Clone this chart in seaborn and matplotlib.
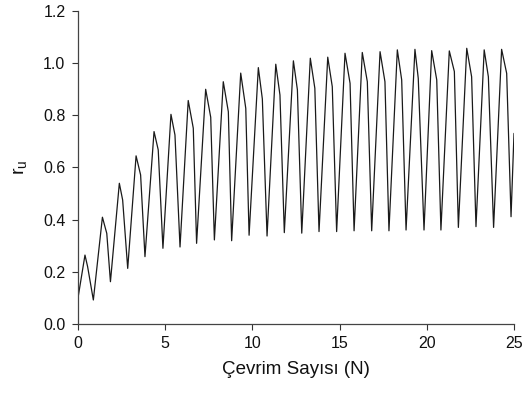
import matplotlib
matplotlib.use("Agg")
import matplotlib.pyplot as plt
import seaborn as sns
import pandas as pd

# ---- data ----
start_x, start_y = 0.0, 0.10
end_x, end_y = 25.0, 0.73

peak_x = [0.40, 1.40, 2.37, 3.33, 4.36, 5.33, 6.32, 7.32, 8.33, 9.33, 10.34, 11.34, 12.35,
          13.32, 14.32, 15.31, 16.30, 17.32, 18.31, 19.32, 20.28, 21.29, 22.29, 23.29, 24.29]
peak_y = [0.264, 0.409, 0.539, 0.644, 0.737, 0.803, 0.856, 0.899, 0.928, 0.961, 0.982, 0.995,
          1.008, 1.018, 1.022, 1.037, 1.040, 1.043, 1.050, 1.052, 1.047, 1.046, 1.056, 1.050, 1.052]
shoulder_x = [0.55, 1.65, 2.56, 3.59, 4.60, 5.56, 6.61, 7.61, 8.62, 9.62, 10.57, 11.58, 12.58,
              13.58, 14.58, 15.60, 16.59, 17.60, 18.56, 19.51, 20.57, 21.58, 22.57, 23.53, 24.58]
shoulder_y = [0.220, 0.347, 0.475, 0.571, 0.667, 0.724, 0.750, 0.792, 0.813, 0.826, 0.862, 0.877,
              0.897, 0.903, 0.909, 0.922, 0.928, 0.928, 0.935, 0.941, 0.935, 0.967, 0.947, 0.947, 0.960]
trough_x = [0.88, 1.86, 2.85, 3.84, 4.87, 5.85, 6.80, 7.82, 8.81, 9.81, 10.84, 11.83, 12.83,
            13.82, 14.83, 15.83, 16.84, 17.83, 18.81, 19.84, 20.81, 21.81, 22.82, 23.83, 24.83]
trough_y = [0.092, 0.162, 0.213, 0.258, 0.290, 0.295, 0.309, 0.322, 0.319, 0.340, 0.337, 0.350,
            0.348, 0.354, 0.354, 0.357, 0.357, 0.357, 0.360, 0.360, 0.360, 0.370, 0.373, 0.370, 0.411]

x_ticks = [0, 5, 10, 15, 20, 25]
y_ticks = [0.0, 0.2, 0.4, 0.6, 0.8, 1.0, 1.2]
x_label = "Çevrim Sayısı (N)"
y_label = r"$\mathregular{r_u}$"

# ---- assemble curve ----
xs = [start_x] + peak_x + shoulder_x + trough_x + [end_x]
ys = [start_y] + peak_y + shoulder_y + trough_y + [end_y]
df = pd.DataFrame({"N": xs, "ru": ys}).sort_values("N").reset_index(drop=True)

sns.set_style("ticks")
plt.rcParams["font.family"] = ["Liberation Sans", "DejaVu Sans"]
plt.rcParams["mathtext.default"] = "regular"

fig = plt.figure(figsize=(5.26, 3.98), dpi=100)
ax = fig.add_axes([78 / 526, 1 - 324 / 398, (514 - 78) / 526, (324 - 10.7) / 398])

sns.lineplot(data=df, x="N", y="ru", sort=False, estimator=None, ax=ax,
             color="#1a1a1a", linewidth=0.9)

ax.set_xlim(0, 25)
ax.set_ylim(0, 1.2)
ax.set_xticks(x_ticks)
ax.set_xticklabels([str(t) for t in x_ticks])
ax.set_yticks(y_ticks)
ax.set_yticklabels([f"{t:.1f}" for t in y_ticks])
ax.tick_params(axis="both", direction="out", length=4, width=0.8, colors="#333333",
               labelsize=11.5, labelcolor="#111111", pad=5)
ax.set_xlabel(x_label, fontsize=13.5, labelpad=7, color="#111111")
ax.set_ylabel(y_label, fontsize=14, labelpad=10, color="#111111")
for side in ["top", "right"]:
    ax.spines[side].set_visible(False)
for side in ["left", "bottom"]:
    ax.spines[side].set_color("#444444")
    ax.spines[side].set_linewidth(0.9)

fig.savefig("out.png", dpi=100)
